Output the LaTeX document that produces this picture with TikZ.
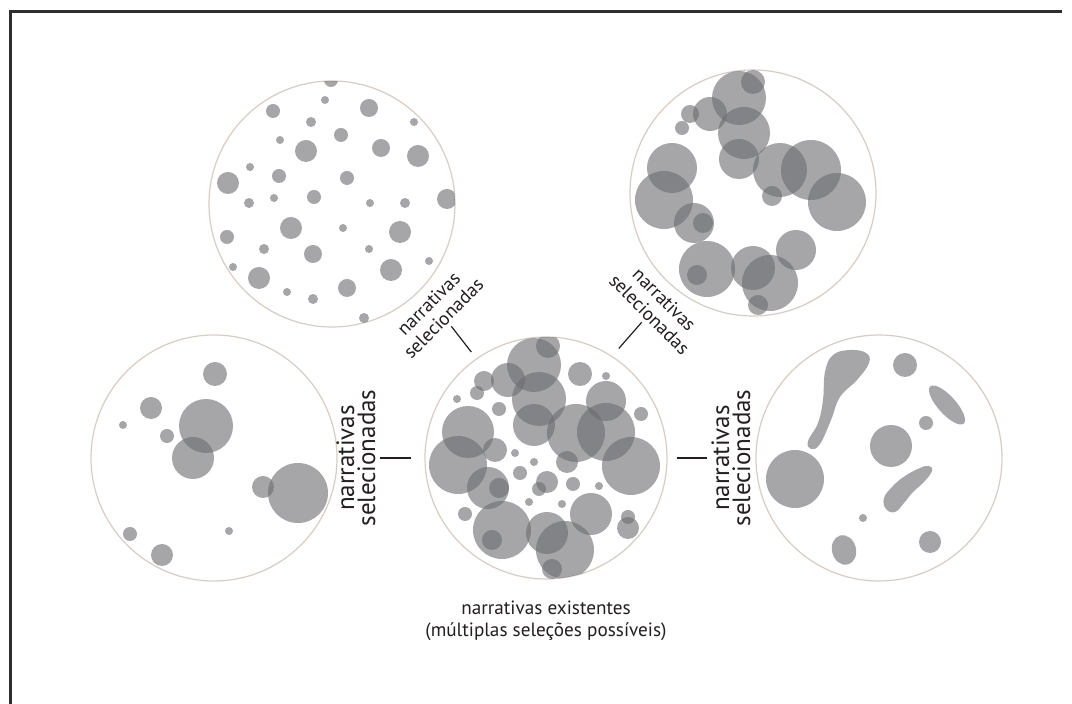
\documentclass[tikz,border=0pt]{standalone}
\usepackage{fontspec}
\setsansfont{PT Sans}
\usetikzlibrary{positioning}
\definecolor{NRInk}{HTML}{231F20}
\definecolor{NRRing}{HTML}{D8CDC5}
\definecolor{NRDot}{HTML}{6B6C70}
\definecolor{NRFrame}{HTML}{2E2E2E}

\begin{document}
\begin{tikzpicture}[
  x=0.5pt, y=-0.5pt,
  pond/.style={draw=NRRing, line width=0.6pt, circle, minimum size=123pt, inner sep=0pt},
  speck/.style={fill=NRDot, fill opacity=0.6},
  selnote/.style={text=NRInk, align=center, inner sep=2pt, font=\sffamily\fontsize{9.5}{10.5}\selectfont},
  sidenote/.style={selnote, font=\sffamily\fontsize{12.5}{10.5}\selectfont},
  tieline/.style={draw=NRInk, line width=0.6pt}
]
\useasboundingbox (0,0) rectangle (1072,704);
\fill[white] (-20,-20) rectangle (1092,724);
\draw[NRFrame, line width=1.5pt] (10.5,724) -- (10.5,11.3) -- (1062,11.3);

\node[pond] (scatter) at (332,204) {};
\node[pond] (cluster) at (753,193) {};
\node[pond] (sparse) at (214,458) {};
\node[pond, minimum size=121pt] (pool) at (546,458) {};
\node[pond] (merged) at (879,458) {};

\begin{scope}
  \clip (332,204) circle (123);
  \foreach \x/\y/\r in {331/80/7, 325/100/4, 369/108/9, 273/111/7, 311/122/5, 414/122/4, 341/135/7, 280/140/4, 306/151/11, 381/148/9, 418/156/11, 250/167/4, 279/176/7, 347/178/7, 228/183/11, 249/203/5, 274/198/4, 314/197/7, 370/203/4, 405/203/5, 447/199/10, 291/228/11, 343/228/4, 400/232/11, 227/237/7, 264/249/5, 313/254/9, 369/249/4, 233/267/4, 429/261/4, 391/270/11, 259/278/11, 347/288/9, 287/292/4, 313/299/5, 364/318/5}
    \fill[speck] (\x,\y) circle (\r);
\end{scope}

\begin{scope}
  \clip (753,193) circle (123);
  \foreach \x/\y/\r in {753/82/12, 739/98/27, 710/114/17, 690/114/9, 682/128/7, 744/133/26, 739/159/20, 672/168/25, 780/170/27, 811/170/30, 664/200/29, 837/202/29, 772/196/10, 694/223/20, 703/223/10, 796/250/20, 707/269/28, 697/275/10, 753/268/22, 770/283/28, 758/305/10}
    \fill[speck] (\x,\y) circle (\r);
\end{scope}

\begin{scope}
  \clip (214,458) circle (123);
  \foreach \x/\y/\r in {215/374/12, 151/408/11, 123/425/4, 167/436/7, 206/426/27, 193/458/21, 263/487/11, 298/493/30, 130/534/7, 229/531/4, 162/555/11}
    \fill[speck] (\x,\y) circle (\r);
\end{scope}

\begin{scope}
  \clip (546,458) circle (121);
  \foreach \x/\y/\r in {548/346/12, 534/365/27, 508/380/17, 484/381/10, 477/393/7, 457/399/4, 580/374/12, 606/376/4, 539/399/27, 499/409/7, 606/401/20, 641/414/7, 534/425/21, 468/432/26, 576/433/29, 606/432/29, 495/450/12, 515/453/4, 534/462/4, 567/462/11, 458/465/29, 631/466/29, 520/473/7, 547/482/11, 539/489/7, 573/484/7, 599/486/4, 488/488/21, 499/488/10, 529/502/4, 562/504/4, 591/514/21, 465/514/7, 628/517/7, 628/528/11, 502/530/29, 492/540/10, 547/533/21, 565/550/29, 552/569/10}
    \fill[speck] (\x,\y) circle (\r);
\end{scope}

\begin{scope}
  \clip (879,458) circle (123);
  \foreach \x/\y/\r in {905/365/12, 891/446/21, 926/423/7, 795/479/29, 863/518/4, 930/542/11}
    \fill[speck] (\x,\y) circle (\r);
  \fill[speck] plot[smooth cycle, tension=0.7] coordinates {(811,449) (808,441) (818,423) (823,400) (825,372) (833,355) (850,350) (866,353) (869,363) (857,380) (840,397) (831,420) (820,444)};
  \fill[speck] plot[smooth cycle, tension=0.7] coordinates {(929,466) (920,468) (905,476) (893,486) (884,498) (886,509) (895,512) (904,503) (913,492) (924,482) (932,471)};
  \fill[speck, rotate around={-48:(947,405)}] (947,405) ellipse [x radius=25, y radius=9];
  \fill[speck, rotate around={15:(844,550)}] (844,550) ellipse [x radius=12, y radius=15];
\end{scope}

\node[sidenote, rotate=90] (selW) at (356,458) {narrativas\\selecionadas};
\node[sidenote, rotate=90] (selE) at (731,458) {narrativas\\selecionadas};
\node[selnote, rotate=45] (selNW) at (436,311) {narrativas\\selecionadas};
\node[selnote, rotate=-45] (selNE) at (657,307) {narrativas\\selecionadas};
\node[selnote, font=\sffamily\fontsize{9.6}{11.2}\selectfont] (poolcap) at (546,621) {narrativas existentes\\(múltiplas seleções possíveis)};

\draw[tieline, shorten >=6.5pt] (selW.south) -- (pool.west);
\draw[tieline, shorten <=4.5pt] (pool.east) -- (selE.north);
\draw[tieline, shorten >=4pt] (selNW.south) -- (pool.125);
\draw[tieline, shorten >=5pt] (selNE.south) -- (pool.57);
\end{tikzpicture}
\end{document}
